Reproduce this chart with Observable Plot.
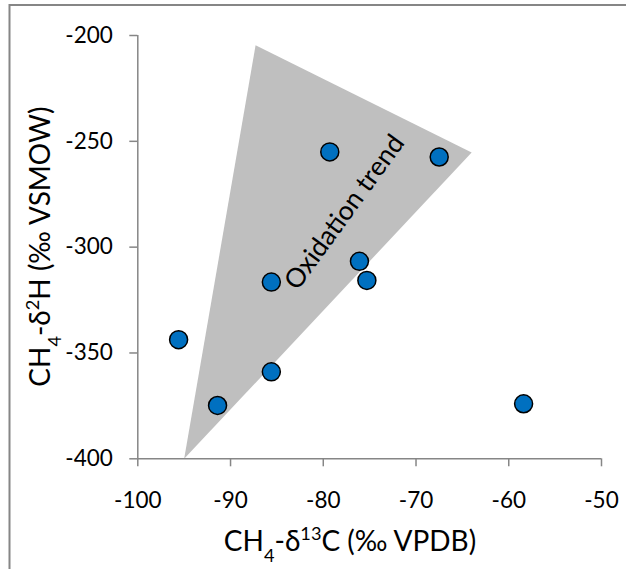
<!DOCTYPE html>
<html>
<head>
<meta charset="utf-8">
<script src="https://cdn.jsdelivr.net/npm/d3@7"></script>
<script src="https://cdn.jsdelivr.net/npm/@observablehq/plot@0.6"></script>
<style>
  html, body { margin: 0; padding: 0; background: #fff; }
  #chart { position: relative; width: 626px; height: 569px; }
  svg { display: block; }
</style>
</head>
<body>
<div id="chart"></div>
<script>
// ---- data ----
const d13C = [-95.6, -91.4, -85.6, -85.6, -79.3, -76.1, -75.3, -67.5, -58.4];
const d2H  = [-343.7, -374.8, -358.9, -316.5, -255.0, -306.7, -315.7, -257.4, -374.0];
const trendX = [-95.0, -87.3, -64.0];
const trendY = [-400.0, -204.6, -255.3];
const trendLabel = "Oxidation trend";
const trendLabelPos = [-77.7, -283.5];
const xTicks = [-100, -90, -80, -70, -60, -50];
const yTicks = [-400, -350, -300, -250, -200];

const points = d13C.map((x, i) => ({x, y: d2H[i]}));
const tri = trendX.map((x, i) => ({x, y: trendY[i]}));

const W = 626, H = 569;
const axisColor = "#868686";

const plot = Plot.plot({
  width: W,
  height: H,
  marginLeft: 137.3,
  marginRight: 25,
  marginTop: 35,
  marginBottom: 110.7,
  style: {fontFamily: "Lato, sans-serif", color: "black", background: "white", overflow: "visible"},
  x: {domain: [-100, -50]},
  y: {domain: [-400, -200]},
  marks: [
    Plot.line(tri, {x: "x", y: "y", fill: "#bfbfbf", stroke: "none", curve: "linear-closed"}),
    Plot.text([{x: trendLabelPos[0], y: trendLabelPos[1], t: trendLabel}], {
      x: "x", y: "y", text: "t", rotate: -54, fontSize: 26.5, fill: "black",
      textAnchor: "middle", lineAnchor: "middle"
    }),
    Plot.ruleX([-100], {stroke: axisColor, strokeWidth: 1.5}),
    Plot.ruleY([-400], {stroke: axisColor, strokeWidth: 1.5}),
    Plot.axisX({ticks: xTicks, tickSize: 8, tickPadding: 25, fontSize: 22.5, stroke: axisColor, strokeWidth: 1.5,
      tickFormat: d => `${d}`, label: null}),
    Plot.axisY({ticks: yTicks, tickSize: 8, tickPadding: 17, fontSize: 22.5, stroke: axisColor, strokeWidth: 1.5,
      tickFormat: d => `${d}`, label: null}),
    Plot.dot(points, {x: "x", y: "y", r: 9, fill: "#0070c0", stroke: "black", strokeWidth: 1.5})
  ]
});

document.getElementById("chart").appendChild(plot);

// ---- axis titles with sub/superscripts, and chart border ----
const svg = d3.select(plot);
const sx = plot.scale("x"), sy = plot.scale("y");

svg.append("path")
  .attr("d", `M9.5,${H} V5 H${W}`)
  .attr("fill", "none").attr("stroke", axisColor).attr("stroke-width", 2);

function titleParts(sel, parts) {
  parts.forEach(([txt, kind]) => {
    const t = sel.append("tspan").text(txt);
    if (kind === "sub") t.attr("baseline-shift", "sub").attr("font-size", "65%");
    if (kind === "sup") t.attr("baseline-shift", "super").attr("font-size", "65%");
  });
}

const xt = svg.append("text")
  .attr("x", 350).attr("y", 551)
  .attr("text-anchor", "middle")
  .attr("font-size", 28).attr("font-family", "Lato, sans-serif").attr("fill", "black");
titleParts(xt, [["CH"], ["4", "sub"], ["-δ"], ["13", "sup"], ["C (‰ VPDB)"]]);

const yMid = (sy.range[0] + sy.range[1]) / 2;
const yt = svg.append("text")
  .attr("transform", `translate(50,${yMid}) rotate(-90)`)
  .attr("text-anchor", "middle")
  .attr("font-size", 28).attr("font-family", "Lato, sans-serif").attr("fill", "black");
titleParts(yt, [["CH"], ["4", "sub"], ["-δ"], ["2", "sup"], ["H (‰ VSMOW)"]]);
</script>
</body>
</html>
